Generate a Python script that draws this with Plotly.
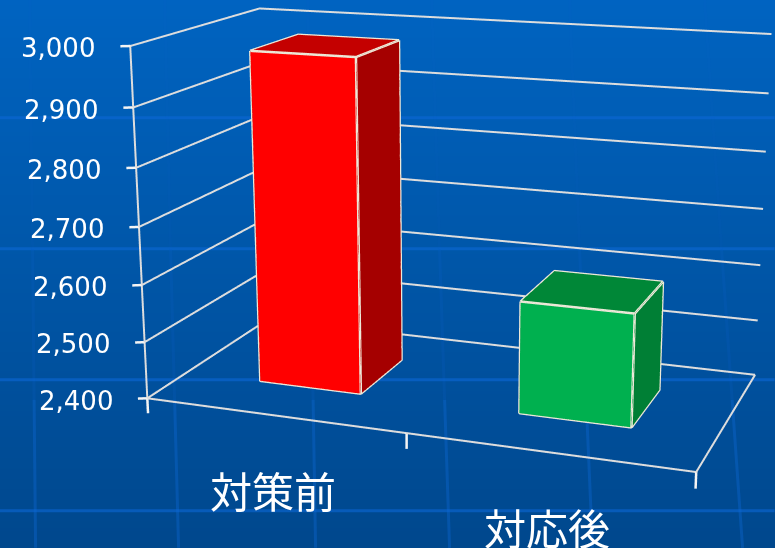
import numpy as np
import plotly.graph_objects as go

categories = ["対策前", "対応後"]
values = [2978, 2593]
tick_vals = [2400, 2500, 2600, 2700, 2800, 2900, 3000]
tick_text = ["2,400", "2,500", "2,600", "2,700", "2,800", "2,900", "3,000"]

# Bar footprints on the floor, as fractions of the frame (x0, x1, y0, y1)
footprints = [(0.14986, 0.35097, 0.30775, 0.70779), (0.65064, 0.85243, 0.315, 0.71724)]
face_colors = [("#FF0000", "#A50000", "#C40000"), ("#00B04F", "#007F35", "#008737")]
label_positions = [0.25, 0.75]
x_tick_positions = [0, 0.5, 1]

# Camera. The fixed 45 degree field of view gives a long lens only on a tall
# viewport, so the plot is larger than the window and shifted into place.
eye = dict(x=1.0476, y=-2.9053, z=0.7902)
center = dict(x=-0.031155, y=-0.021929, z=-0.066946)
up = dict(x=-0.01716, y=0.052763, z=1.0)
depth_ratio, height_ratio = 0.50069, 0.636
focal, principal_x, principal_y = 1790.2, 436.42, 255.67

H = int(round(focal * 2 * np.tan(np.pi / 8)))
W = 1400
ox = W / 2 - principal_x
oy = H / 2 - principal_y

Z0, Z1 = tick_vals[0], tick_vals[-1]

fig = go.Figure()

# Backdrop: vertical gradient with a faint light-blue lattice
fig.add_trace(go.Heatmap(x=[-10, 785], y=[-10, 558], z=[[0, 0], [1, 1]], zsmooth="best", showscale=False,
                         hoverinfo="skip", colorscale=[[0, "#0064C2"], [1, "#00478C"]]))
lattice_rows = [118, 249, 380, 511]
lattice_cols = [(30, 33, 36), (165, 171, 179), (308, 311, 316), (432, 440, 450), (570, 580, 593), (705, 722, 743)]
for yy in lattice_rows:
    fig.add_trace(go.Scatter(x=[0, 775], y=[yy, yy], mode="lines", hoverinfo="skip",
                             line=dict(color="rgba(12,104,214,0.6)", width=3)))
for top, mid, bottom in lattice_cols:
    low = mid + (bottom - mid) * 150 / 298
    for xs, ys, alpha in (((top, mid), (0, 250), 0.05), ((mid, low), (250, 400), 0.15), ((low, bottom), (400, 548), 0.38)):
        fig.add_trace(go.Scatter(x=xs, y=ys, mode="lines", hoverinfo="skip",
                                 line=dict(color="rgba(12,104,214,%g)" % alpha, width=3)))


def bar_mesh(fp, val, cols):
    x0, x1, y0, y1 = fp
    V = [(x0, y0, Z0), (x1, y0, Z0), (x1, y1, Z0), (x0, y1, Z0), (x0, y0, val), (x1, y0, val), (x1, y1, val), (x0, y1, val)]
    F = [((0, 1, 5, 4), cols[0]), ((1, 2, 6, 5), cols[1]), ((4, 5, 6, 7), cols[2]),
         ((0, 3, 2, 1), cols[1]), ((3, 0, 4, 7), cols[1]), ((2, 3, 7, 6), cols[1])]
    I, J, K, C = [], [], [], []
    for q, c in F:
        I += [q[0], q[0]]
        J += [q[1], q[2]]
        K += [q[2], q[3]]
        C += [c, c]
    return go.Mesh3d(x=[v[0] for v in V], y=[v[1] for v in V], z=[v[2] for v in V], i=I, j=J, k=K, facecolor=C,
                     flatshading=True, hoverinfo="skip", lighting=dict(ambient=1, diffuse=0, specular=0, fresnel=0, roughness=1))


def polylines(paths, color, width):
    xs, ys, zs = [], [], []
    for path in paths:
        for p in path:
            xs.append(p[0])
            ys.append(p[1])
            zs.append(p[2])
        xs.append(None)
        ys.append(None)
        zs.append(None)
    return go.Scatter3d(x=xs, y=ys, z=zs, mode="lines", line=dict(color=color, width=width), hoverinfo="skip",
                        showlegend=False, connectgaps=False)


# Walls and floor outline
grid = [[(0, 0, v), (0, 1, v), (1, 1, v)] for v in tick_vals]
grid += [[(0, 0, Z0), (1, 0, Z0), (1, 1, Z0)], [(0, 0, Z0), (0, 0, Z1)]]
ticks = [[(0, 0, v), (-0.015, -0.0145, v)] for v in tick_vals]
ticks += [[(q, 0, Z0), (q, 0, Z0 - 27)] for q in x_tick_positions]
fig.add_trace(polylines(grid, "#DDDDDD", 4))
fig.add_trace(polylines(ticks, "#F4F4F4", 5))

for fp, val, cols in zip(footprints, values, face_colors):
    fig.add_trace(bar_mesh(fp, val, cols))
    x0, x1, y0, y1 = fp
    edges = [[(x0, y0, val), (x1, y0, val), (x1, y0, Z0), (x0, y0, Z0), (x0, y0, val)],
             [(x0, y0, val), (x0, y1, val), (x1, y1, val), (x1, y0, val)],
             [(x1, y1, val), (x1, y1, Z0), (x1, y0, Z0)]]
    fig.add_trace(polylines(edges, "#EDE8D8", 5))

labels = [dict(x=-0.015, y=-0.0145, z=v, text=s, showarrow=False, xanchor="right", xshift=-23, yshift=-2,
               font=dict(family="DejaVu Sans", size=26, color="white")) for v, s in zip(tick_vals, tick_text)]
labels += [dict(x=q, y=0, z=Z0, text=c, showarrow=False, xanchor="center", yshift=-74,
                font=dict(family="Noto Sans CJK JP", size=42, color="white")) for q, c in zip(label_positions, categories)]

fig.update_layout(
    width=W, height=H, margin=dict(l=0, r=0, t=0, b=0), showlegend=False, paper_bgcolor="#00478C",
    xaxis=dict(visible=False, range=[-ox, W - ox], domain=[0, 1]),
    yaxis=dict(visible=False, range=[H - oy, -oy], domain=[0, 1]),
    scene=dict(domain=dict(x=[0, 1], y=[0, 1]), bgcolor="rgba(0,0,0,0)",
               xaxis=dict(visible=False, range=[-0.1, 1.1]),
               yaxis=dict(visible=False, range=[-0.1, 1.1]),
               zaxis=dict(visible=False, range=[2340, 3060]),
               aspectmode="manual", aspectratio=dict(x=1.2, y=1.2 * depth_ratio, z=1.2 * height_ratio),
               camera=dict(eye=eye, center=center, up=up, projection=dict(type="perspective")),
               annotations=labels))
post = ("var gd=document.getElementById('{plot_id}');gd.style.position='absolute';"
        "gd.style.left='%dpx';gd.style.top='%dpx';"
        "document.documentElement.style.overflow='hidden';document.body.style.overflow='hidden';") % (-round(ox), -round(oy))
fig.write_html("out.html", post_script=post)
